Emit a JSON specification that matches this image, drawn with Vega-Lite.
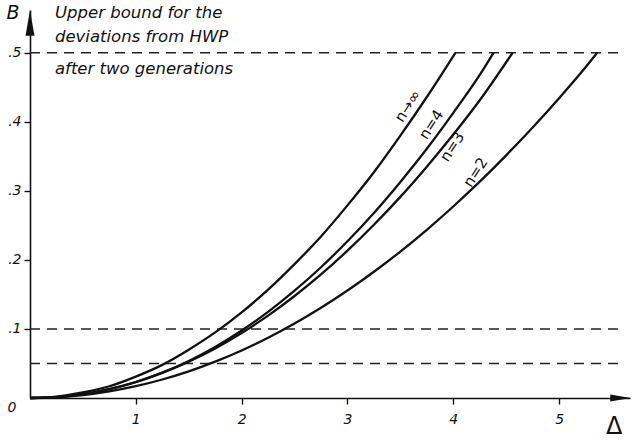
{
  "$schema": "https://vega.github.io/schema/vega-lite/v6.json",
  "autosize": "none",
  "width": 600,
  "height": 388,
  "padding": {"left": 30, "top": 10, "right": 4, "bottom": 42},
  "background": "white",
  "config": {
    "view": {"stroke": null},
    "font": "DejaVu Sans",
    "axis": {"grid": false, "domainColor": "#111", "tickColor": "#111", "labelColor": "#111", "labelFont": "DejaVu Sans", "labelFontStyle": "italic", "labelFontSize": 14, "domainWidth": 1.6, "tickWidth": 1.4, "title": null}
  },
  "datasets": {
    "curves": [
      {"n": "inf", "d": 0, "B": 0}, {"n": "inf", "d": 0.25, "B": 0.002}, {"n": "inf", "d": 0.5, "B": 0.008}, {"n": "inf", "d": 0.75, "B": 0.017}, {"n": "inf", "d": 1, "B": 0.031}, {"n": "inf", "d": 1.25, "B": 0.048}, {"n": "inf", "d": 1.5, "B": 0.07}, {"n": "inf", "d": 1.75, "B": 0.095}, {"n": "inf", "d": 2, "B": 0.124}, {"n": "inf", "d": 2.25, "B": 0.157}, {"n": "inf", "d": 2.5, "B": 0.194}, {"n": "inf", "d": 2.75, "B": 0.234}, {"n": "inf", "d": 3, "B": 0.279}, {"n": "inf", "d": 3.25, "B": 0.327}, {"n": "inf", "d": 3.5, "B": 0.38}, {"n": "inf", "d": 3.75, "B": 0.436}, {"n": "inf", "d": 4.02, "B": 0.5},
      {"n": "4", "d": 0, "B": 0}, {"n": "4", "d": 0.25, "B": 0.0013}, {"n": "4", "d": 0.5, "B": 0.0055}, {"n": "4", "d": 0.75, "B": 0.0127}, {"n": "4", "d": 1, "B": 0.0231}, {"n": "4", "d": 1.25, "B": 0.0367}, {"n": "4", "d": 1.5, "B": 0.0537}, {"n": "4", "d": 1.75, "B": 0.074}, {"n": "4", "d": 2, "B": 0.0977}, {"n": "4", "d": 2.25, "B": 0.1248}, {"n": "4", "d": 2.5, "B": 0.1554}, {"n": "4", "d": 2.75, "B": 0.1894}, {"n": "4", "d": 3, "B": 0.227}, {"n": "4", "d": 3.25, "B": 0.268}, {"n": "4", "d": 3.5, "B": 0.313}, {"n": "4", "d": 3.75, "B": 0.361}, {"n": "4", "d": 4, "B": 0.413}, {"n": "4", "d": 4.25, "B": 0.468}, {"n": "4", "d": 4.38, "B": 0.5},
      {"n": "3", "d": 0, "B": 0}, {"n": "3", "d": 0.25, "B": 0.0014}, {"n": "3", "d": 0.5, "B": 0.0057}, {"n": "3", "d": 0.75, "B": 0.013}, {"n": "3", "d": 1, "B": 0.0232}, {"n": "3", "d": 1.25, "B": 0.0364}, {"n": "3", "d": 1.5, "B": 0.0526}, {"n": "3", "d": 1.75, "B": 0.0718}, {"n": "3", "d": 2, "B": 0.0941}, {"n": "3", "d": 2.25, "B": 0.1193}, {"n": "3", "d": 2.5, "B": 0.1477}, {"n": "3", "d": 2.75, "B": 0.179}, {"n": "3", "d": 3, "B": 0.2134}, {"n": "3", "d": 3.25, "B": 0.2509}, {"n": "3", "d": 3.5, "B": 0.2913}, {"n": "3", "d": 3.75, "B": 0.335}, {"n": "3", "d": 4, "B": 0.3816}, {"n": "3", "d": 4.25, "B": 0.4313}, {"n": "3", "d": 4.56, "B": 0.5},
      {"n": "2", "d": 0, "B": 0}, {"n": "2", "d": 0.25, "B": 0.00105}, {"n": "2", "d": 0.5, "B": 0.0042}, {"n": "2", "d": 0.75, "B": 0.0096}, {"n": "2", "d": 1, "B": 0.0171}, {"n": "2", "d": 1.25, "B": 0.0268}, {"n": "2", "d": 1.5, "B": 0.0386}, {"n": "2", "d": 1.75, "B": 0.0527}, {"n": "2", "d": 2, "B": 0.0689}, {"n": "2", "d": 2.25, "B": 0.0873}, {"n": "2", "d": 2.5, "B": 0.1078}, {"n": "2", "d": 2.75, "B": 0.1306}, {"n": "2", "d": 3, "B": 0.1556}, {"n": "2", "d": 3.25, "B": 0.1828}, {"n": "2", "d": 3.5, "B": 0.2121}, {"n": "2", "d": 3.75, "B": 0.2437}, {"n": "2", "d": 4, "B": 0.2774}, {"n": "2", "d": 4.25, "B": 0.3133}, {"n": "2", "d": 4.5, "B": 0.3515}, {"n": "2", "d": 4.75, "B": 0.3918}, {"n": "2", "d": 5, "B": 0.4343}, {"n": "2", "d": 5.25, "B": 0.479}, {"n": "2", "d": 5.36, "B": 0.5}
    ],
    "dashes": [
      {"B": 0.5, "d0": 0, "d1": 5.62},
      {"B": 0.1, "d0": 0, "d1": 5.62},
      {"B": 0.05, "d0": 0, "d1": 5.62}
    ],
    "curveLabels": [
      {"label": "n→∞", "d": 3.57, "B": 0.423},
      {"label": "n=4", "d": 3.79, "B": 0.396},
      {"label": "n=3", "d": 3.99, "B": 0.364},
      {"label": "n=2", "d": 4.21, "B": 0.327}
    ],
    "notes": [
      {"label": "Upper bound for the", "d": 0.236, "B": 0.557},
      {"label": "deviations from HWP", "d": 0.236, "B": 0.523},
      {"label": "after two generations", "d": 0.236, "B": 0.477}
    ],
    "yArrow": [{"d": 0, "B": 0.543}],
    "xArrow": [{"d": 5.58, "B": 0}],
    "yTitle": [{"label": "B", "d": -0.16, "B": 0.557}],
    "xTitle": [{"label": "Δ", "d": 5.52, "B": -0.042}],
    "origin": [{"label": "0", "d": 0, "B": 0}]
  },
  "encoding": {
    "x": {"field": "d", "type": "quantitative", "scale": {"domain": [0, 5.67], "nice": false, "zero": false}, "axis": {"values": [1, 2, 3, 4, 5], "tickSize": 6, "labelPadding": 8, "labelFlush": false}},
    "y": {"field": "B", "type": "quantitative", "scale": {"domain": [0, 0.562], "nice": false, "zero": false}, "axis": {"values": [0.1, 0.2, 0.3, 0.4, 0.5], "tickSize": 6, "labelPadding": 3, "labelExpr": "replace(format(datum.value, '.1f'), '0.', '.')"}}
  },
  "layer": [
    {
      "data": {"name": "dashes"},
      "mark": {"type": "rule", "color": "#222", "strokeWidth": 1.5, "strokeDash": [10, 7]},
      "encoding": {"x": {"field": "d0", "type": "quantitative"}, "x2": {"field": "d1"}, "y": {"field": "B", "type": "quantitative"}}
    },
    {
      "data": {"name": "curves"},
      "mark": {"type": "line", "color": "#111", "strokeWidth": 2.3, "interpolate": "monotone"},
      "encoding": {"detail": {"field": "n", "type": "nominal"}}
    },
    {
      "data": {"name": "curveLabels"},
      "mark": {"type": "text", "angle": -57, "fontSize": 15, "color": "#111", "font": "DejaVu Sans", "align": "center", "baseline": "middle"},
      "encoding": {"text": {"field": "label"}}
    },
    {
      "data": {"name": "notes"},
      "mark": {"type": "text", "fontSize": 16.5, "fontStyle": "italic", "color": "#111", "font": "DejaVu Sans", "align": "left", "baseline": "middle", "clip": false},
      "encoding": {"text": {"field": "label"}}
    },
    {
      "data": {"name": "yArrow"},
      "mark": {"type": "point", "shape": "M0,-1L0.35,1L-0.35,1Z", "filled": true, "color": "#111", "size": 650, "opacity": 1},
      "encoding": {}
    },
    {
      "data": {"name": "xArrow"},
      "mark": {"type": "point", "shape": "M1,0L-1,0.35L-1,-0.35Z", "filled": true, "color": "#111", "size": 420, "opacity": 1},
      "encoding": {}
    },
    {
      "data": {"name": "yTitle"},
      "mark": {"type": "text", "fontSize": 19, "fontStyle": "italic", "color": "#111", "font": "DejaVu Sans", "align": "center", "baseline": "middle"},
      "encoding": {"text": {"field": "label"}}
    },
    {
      "data": {"name": "xTitle"},
      "mark": {"type": "text", "fontSize": 24, "color": "#111", "font": "DejaVu Sans", "align": "center", "baseline": "middle"},
      "encoding": {"text": {"field": "label"}}
    },
    {
      "data": {"name": "origin"},
      "mark": {"type": "text", "fontSize": 14, "fontStyle": "italic", "color": "#111", "font": "DejaVu Sans", "align": "center", "baseline": "middle", "dx": -18, "dy": 10},
      "encoding": {"text": {"field": "label"}}
    }
  ]
}
